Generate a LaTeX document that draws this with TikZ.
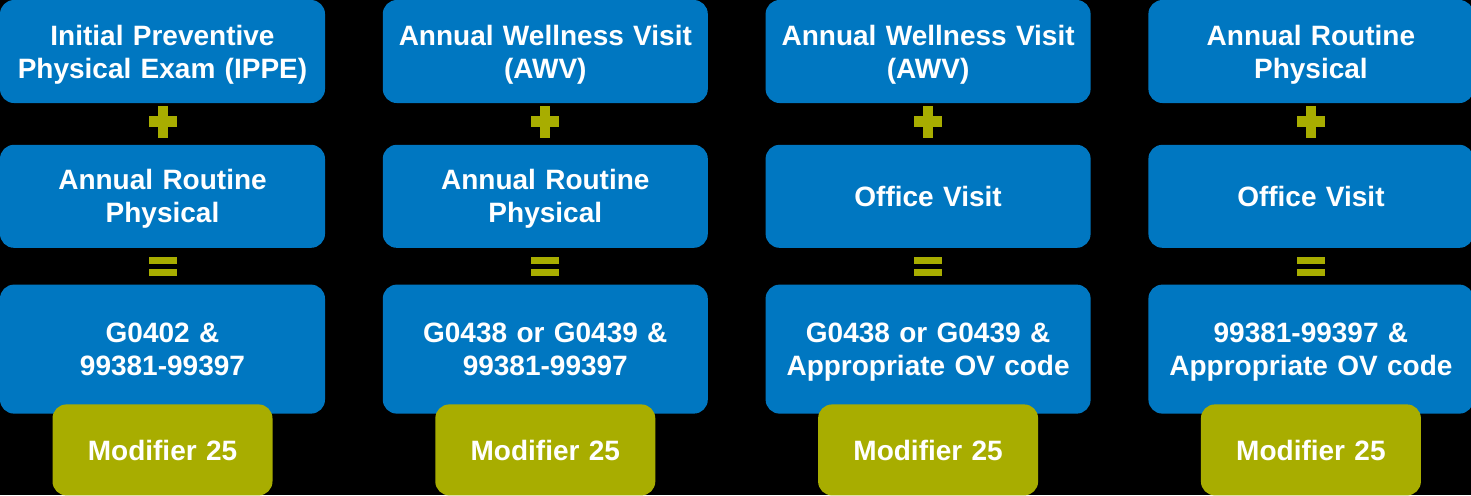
\documentclass[tikz,border=0pt]{standalone}
\usepackage{fontspec}
\setmainfont{Liberation Sans}
\usetikzlibrary{positioning,calc}

\definecolor{visitblue}{HTML}{0077C1}
\definecolor{signolive}{HTML}{A8AD00}

% two text lines, depth of the last line left out
\tikzstyle{visit} = [rectangle, fill=visitblue, text=white, text width=160pt, align=center,
font=\bfseries\fontsize{14}{16.5}\selectfont, rounded corners=7pt, inner sep=0pt,
text depth=16.5pt, minimum width=162.5pt, minimum height=51.5pt]
\tikzstyle{oneline} = [text depth=0pt]
\tikzstyle{code} = [visit, minimum height=64.5pt]
\tikzstyle{modifier} = [visit, oneline, fill=signolive, text width=108pt, minimum width=110pt, minimum height=45.5pt]
\tikzstyle{sign} = [fill=signolive]

% plus and equals signs between two boxes
\newcommand{\plussign}[1]{%
  \fill[sign] ($(#1)+(-7pt,-2.75pt)$) rectangle ++(14pt,5.5pt);
  \fill[sign] ($(#1)+(-2.5pt,-8pt)$) rectangle ++(5pt,16pt);}
\newcommand{\equalsign}[1]{%
  \fill[sign] ($(#1)+(-7pt,-4.75pt)$) rectangle ++(14pt,3.5pt);
  \fill[sign] ($(#1)+(-7pt,1.25pt)$) rectangle ++(14pt,3.5pt);}

\begin{document}
\begin{tikzpicture}
\fill[black] (0,0) rectangle (735.5pt,-247.5pt);
\useasboundingbox (0,0) rectangle (735.5pt,-247.5pt);

% top row
\node [visit] (ippe) at (81.25pt,-25.75pt) {Initial Preventive\\Physical Exam (IPPE)};
\node [visit, right=28.5pt of ippe] (awvA) {Annual Wellness Visit\\(AWV)};
\node [visit, right=28.5pt of awvA] (awvB) {Annual Wellness Visit\\(AWV)};
\node [visit, right=28.5pt of awvB] (physD) {Annual Routine\\Physical};

% middle row
\node [visit, below=20.5pt of ippe] (physA) {Annual Routine\\Physical};
\node [visit, below=20.5pt of awvA] (physB) {Annual Routine\\Physical};
\node [visit, oneline, below=20.5pt of awvB] (officeC) {Office Visit};
\node [visit, oneline, below=20.5pt of physD] (officeD) {Office Visit};

% codes
\node [code, below=18pt of physA] (codeA) {G0402 \&\\99381-99397};
\node [code, below=18pt of physB] (codeB) {G0438 or G0439 \&\\99381-99397};
\node [code, below=18pt of officeC] (codeC) {G0438 or G0439 \&\\Appropriate OV code};
\node [code, below=18pt of officeD] (codeD) {99381-99397 \&\\Appropriate OV code};

% modifiers
\node [modifier, below=-5pt of codeA] (modA) {Modifier 25};
\node [modifier, below=-5pt of codeB] (modB) {Modifier 25};
\node [modifier, below=-5pt of codeC] (modC) {Modifier 25};
\node [modifier, below=-5pt of codeD] (modD) {Modifier 25};

% signs
\coordinate (plusA) at ($(ippe.south)!0.5!(physA.north)+(0,1pt)$);
\coordinate (plusB) at ($(awvA.south)!0.5!(physB.north)+(0,1pt)$);
\coordinate (plusC) at ($(awvB.south)!0.5!(officeC.north)+(0,1pt)$);
\coordinate (plusD) at ($(physD.south)!0.5!(officeD.north)+(0,1pt)$);
\coordinate (eqA) at ($(physA.south)!0.5!(codeA.north)$);
\coordinate (eqB) at ($(physB.south)!0.5!(codeB.north)$);
\coordinate (eqC) at ($(officeC.south)!0.5!(codeC.north)$);
\coordinate (eqD) at ($(officeD.south)!0.5!(codeD.north)$);
\plussign{plusA} \plussign{plusB} \plussign{plusC} \plussign{plusD}
\equalsign{eqA} \equalsign{eqB} \equalsign{eqC} \equalsign{eqD}
\end{tikzpicture}
\end{document}
